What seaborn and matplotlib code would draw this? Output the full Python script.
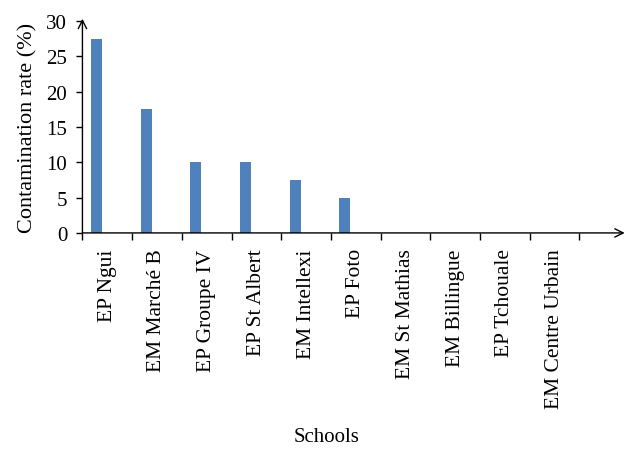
import pandas as pd
import matplotlib.pyplot as plt
import seaborn as sns

schools = ['EP Ngui', 'EM Marché B', 'EP Groupe IV', 'EP St Albert', 'EM Intellexi',
           'EP Foto', 'EM St Mathias', 'EM Billingue', 'EP Tchouale', 'EM Centre Urbain']
rates = [27.5, 17.5, 10, 10, 7.5, 5, 0, 0, 0, 0]
# the source chart has two more (empty) series, which shifts the bars left
empty = [0] * len(schools)
series = ['Series1', 'Series2', 'Series3']

df = pd.DataFrame({
    'School': schools * 3,
    'Rate': rates + empty + empty,
    'Series': [s for s in series for _ in schools],
})

sns.set_style('white')
plt.rcParams['font.family'] = ['Liberation Serif', 'DejaVu Serif']
plt.rcParams['text.color'] = 'black'
plt.rcParams['axes.labelcolor'] = 'black'
plt.rcParams['xtick.color'] = 'black'
plt.rcParams['ytick.color'] = 'black'

fig = plt.figure(figsize=(6.44, 4.56), dpi=100)
ax = fig.add_axes([0.128, 0.487, 0.842, 0.465])

sns.barplot(data=df, x='School', y='Rate', hue='Series', hue_order=series,
            palette=['#4F81BD', '#C0504D', '#9BBB59'], width=0.66, saturation=1,
            linewidth=0, legend=False, ax=ax)

ax.set_xlim(-0.5, 10.41)
ax.set_ylim(0, 30)
ax.set_yticks(range(0, 31, 5))

for s in ax.spines.values():
    s.set_visible(False)

# axis lines with open arrow heads
arrow = dict(arrowstyle='->', lw=1, color='black', shrinkA=0, shrinkB=0, mutation_scale=15)
ax.annotate('', xy=(1, 0), xytext=(0, 0), xycoords='axes fraction', arrowprops=arrow)
ax.annotate('', xy=(0, 1.01), xytext=(0, 0), xycoords='axes fraction', arrowprops=arrow)

ax.set_xticks(range(len(schools)))
ax.set_xticklabels(schools, rotation=90, fontsize=15.5)
ax.set_xticks([i - 0.5 for i in range(len(schools) + 1)], minor=True)
ax.tick_params(axis='x', which='major', length=0, pad=11)
ax.tick_params(axis='x', which='minor', length=5, width=1, direction='out', bottom=True)
ax.tick_params(axis='y', length=4, width=1, direction='out', pad=7,
               labelsize=15, left=True)

ax.set_ylabel('Contamination rate (%)', fontsize=16)
ax.yaxis.set_label_coords(-0.082, 0.5)
ax.set_xlabel('Schools', fontsize=15)
ax.xaxis.set_label_coords(0.45, -0.915)

fig.savefig('out.png', dpi=100)
